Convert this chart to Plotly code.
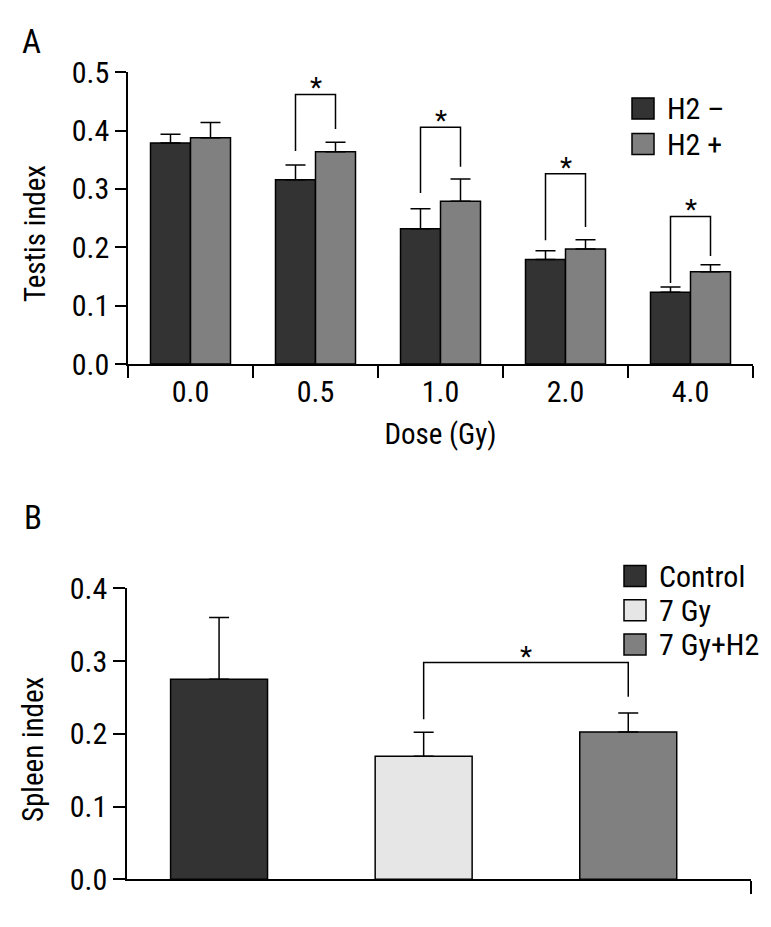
import plotly.graph_objects as go

FONT = "Roboto Condensed, DejaVu Sans Condensed, sans-serif"

# panel A - testis index by dose
dose = ['0.0', '0.5', '1.0', '2.0', '4.0']
h2_minus = [0.379, 0.316, 0.232, 0.179, 0.123]
h2_minus_err = [0.015, 0.025, 0.034, 0.015, 0.009]
h2_plus = [0.388, 0.364, 0.279, 0.197, 0.158]
h2_plus_err = [0.026, 0.016, 0.038, 0.016, 0.012]
series_a = ['H2 \u2013', 'H2 +']
colors_a = ['#333333', '#808080']

# significance brackets (index into dose, top, left leg end, right leg end)
sig_a = [1, 2, 3, 4]
sig_a_top = [0.462, 0.406, 0.326, 0.253]
sig_a_left = [0.365, 0.293, 0.212, 0.139]
sig_a_right = [0.403, 0.338, 0.235, 0.185]

# panel B - spleen index
groups_b = ['Control', '7 Gy', '7 Gy+H2']
spleen = [0.275, 0.169, 0.2025]
spleen_err = [0.085, 0.033, 0.026]
colors_b = ['#333333', '#e6e6e6', '#808080']
sig_b_pair = [1, 2]
sig_b_top = 0.298
sig_b_legs = [0.220, 0.251]

# page body has an 8px margin, so the figure is drawn 8px in from the corner
OFF = 8
W, H = 771 - OFF, 927 - OFF
def px(x):
    return (x - OFF) / W
def py(y):
    return 1 - (y - OFF) / H

BAR_W = 0.32
fig = go.Figure()

for vals, errs, name, col, off in [(h2_minus, h2_minus_err, series_a[0], colors_a[0], -BAR_W),
                                   (h2_plus, h2_plus_err, series_a[1], colors_a[1], 0)]:
    fig.add_trace(go.Bar(
        x=dose, y=vals, name=name, width=BAR_W, offset=off,
        marker=dict(color=col, line=dict(color='black', width=1.5)),
        error_y=dict(type='data', array=errs, symmetric=False, arrayminus=[0] * len(errs),
                     color='black', thickness=1.5, width=10),
        xaxis='x', yaxis='y', showlegend=False))

for i, top, l, r in zip(sig_a, sig_a_top, sig_a_left, sig_a_right):
    fig.add_trace(go.Scatter(
        x=[i - BAR_W / 2, i - BAR_W / 2, i + BAR_W / 2, i + BAR_W / 2],
        y=[l, top, top, r], mode='lines', line=dict(color='black', width=1.5),
        xaxis='x3', yaxis='y', showlegend=False, hoverinfo='skip'))
    fig.add_annotation(x=i, y=top, xref='x3', yref='y', text='*', showarrow=False,
                       yanchor='bottom', yshift=-12, font=dict(size=28, family=FONT, color='black'))

BW_B = 0.474
xb = list(range(len(groups_b)))
for j in xb:
    fig.add_trace(go.Bar(
        x=[j], y=[spleen[j]], name=groups_b[j], width=BW_B, offset=-BW_B / 2,
        marker=dict(color=colors_b[j], line=dict(color='black', width=1.5)),
        error_y=dict(type='data', array=[spleen_err[j]], symmetric=False, arrayminus=[0],
                     color='black', thickness=1.5, width=10),
        xaxis='x2', yaxis='y2', showlegend=False))

a, b = sig_b_pair
fig.add_trace(go.Scatter(
    x=[a, a, b, b], y=[sig_b_legs[0], sig_b_top, sig_b_top, sig_b_legs[1]],
    mode='lines', line=dict(color='black', width=1.5),
    xaxis='x2', yaxis='y2', showlegend=False, hoverinfo='skip'))
fig.add_annotation(x=(a + b) / 2, y=sig_b_top, xref='x2', yref='y2', text='*', showarrow=False,
                   yanchor='bottom', yshift=-12, font=dict(size=28, family=FONT, color='black'))

# legends drawn as boxes + labels
def legend(labels, colors, x0, y0, step):
    for k, (lab, col) in enumerate(zip(labels, colors)):
        top = y0 + k * step
        fig.add_shape(type='rect', xref='paper', yref='paper',
                      x0=px(x0), x1=px(x0 + 22), y0=py(top), y1=py(top + 21),
                      fillcolor=col, line=dict(color='black', width=1.5))
        fig.add_annotation(x=px(x0 + 33), y=py(top + 10.5), xref='paper', yref='paper',
                           text=lab, showarrow=False, xanchor='left', yanchor='middle',
                           font=dict(size=30, family=FONT, color='black'))

legend(series_a, colors_a, 632, 98, 35.5)
legend(groups_b, colors_b, 624, 565.5, 34.2)

# panel letters and y titles
for lab, x, y, size, angle in [('A', 32, 41, 33, 0), ('B', 33, 518, 33, 0),
                               ('Testis index', 35, 234, 29, -90), ('Spleen index', 33, 750, 29, -90)]:
    fig.add_annotation(x=px(x), y=py(y), xref='paper', yref='paper', text=lab, showarrow=False,
                       textangle=angle, xanchor='center', yanchor='middle',
                       font=dict(size=size, family=FONT, color='black'))

axis_common = dict(showline=True, linecolor='black', linewidth=1.5, showgrid=False, zeroline=False,
                   ticks='outside', tickcolor='black', tickwidth=1.5,
                   tickfont=dict(size=30, family=FONT, color='black'))

fig.update_layout(
    width=W, height=H, template='none', plot_bgcolor='white', paper_bgcolor='white',
    margin=dict(l=0, r=0, t=0, b=0), showlegend=False,
    font=dict(family=FONT, color='black'),
    xaxis=dict(axis_common, domain=[px(128), px(753)], type='category', range=[-0.5, 4.5],
               tickson='boundaries', ticklen=12, anchor='y',
               title=dict(text='Dose (Gy)', font=dict(size=29, family=FONT), standoff=16)),
    xaxis3=dict(domain=[px(128), px(753)], range=[-0.5, 4.5], overlaying='x', anchor='y',
                visible=False),
    yaxis=dict(axis_common, domain=[py(364), py(72.3)], range=[0, 0.5], tickvals=[0, 0.1, 0.2, 0.3, 0.4, 0.5],
               tickformat='.1f', ticklen=11, anchor='x'),
    xaxis2=dict(axis_common, domain=[px(127), px(751)], range=[-0.45, 2.6], tickvals=[2.6],
                showticklabels=False, ticklen=13, anchor='y2'),
    yaxis2=dict(axis_common, domain=[py(879.3), py(588.3)], range=[0, 0.4], tickvals=[0, 0.1, 0.2, 0.3, 0.4],
                tickformat='.1f', ticklen=12, anchor='x2'),
)

fig.write_html("out.html")
